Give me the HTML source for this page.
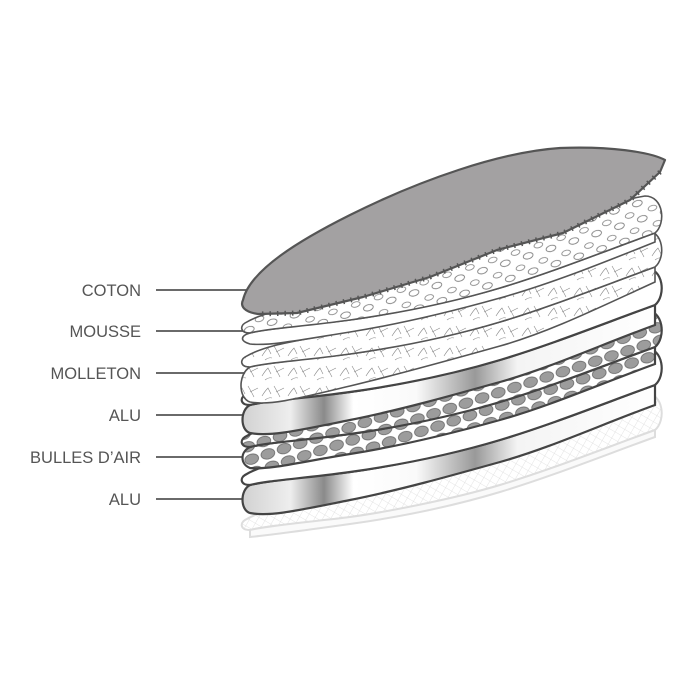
<!DOCTYPE html>
<html><head><meta charset="utf-8"><style>
html,body{margin:0;padding:0;background:#fff}
svg{display:block}
text{font-family:"Liberation Sans",sans-serif;font-size:16.5px;fill:#555}
</style></head><body>
<svg width="700" height="700" viewBox="0 0 700 700">
<defs>
<linearGradient id="alu" x1="240" y1="0" x2="660" y2="0" gradientUnits="userSpaceOnUse">
<stop offset="0" stop-color="#d0d0d0"/><stop offset="0.12" stop-color="#eee"/>
<stop offset="0.2" stop-color="#8a8a8a"/><stop offset="0.27" stop-color="#fff"/>
<stop offset="0.42" stop-color="#fafafa"/><stop offset="0.56" stop-color="#999"/>
<stop offset="0.66" stop-color="#f4f4f4"/><stop offset="1" stop-color="#fff"/>
</linearGradient>
<pattern id="bub" width="17" height="13" patternUnits="userSpaceOnUse" patternTransform="rotate(-18)">
<rect width="17" height="13" fill="#fff"/><ellipse cx="8.5" cy="6.5" rx="7" ry="5" fill="#9c9c9c" stroke="#666" stroke-width="0.8"/>
</pattern>
<pattern id="foam" width="24" height="16" patternUnits="userSpaceOnUse" patternTransform="rotate(-18)">
<rect width="24" height="16" fill="#fff"/><ellipse cx="6" cy="4" rx="4.5" ry="2.6" fill="none" stroke="#777" stroke-width="0.8"/><ellipse cx="17" cy="11" rx="5" ry="3" fill="none" stroke="#777" stroke-width="0.8"/>
</pattern>
<pattern id="fleece" width="26" height="20" patternUnits="userSpaceOnUse">
<rect width="26" height="20" fill="#fff"/><path d="M2 14 Q5 9 8 6 L11 12 M14 4 Q17 9 20 15 M16 10 L24 6 M5 18 Q9 15 12 16" stroke="#888" stroke-width="0.6" fill="none"/>
</pattern>
<pattern id="grid" width="7" height="7" patternUnits="userSpaceOnUse" patternTransform="rotate(30)">
<rect width="7" height="7" fill="#fff"/><path d="M0 0H7M0 0V7" stroke="#ddd" stroke-width="0.8"/>
</pattern>
<path id="top" d="M245,395 C270,380 310,378 350,368 S450,335 500,318 S600,275 645,268 C664,268 666,296 655,305 C600,325 550,345 500,360 S400,385 350,392 S270,400 250,405 C240,405 240,398 245,395 Z"/>
</defs>

<text x="141" y="296" text-anchor="end">COTON</text>
<text x="141" y="337" text-anchor="end">MOUSSE</text>
<text x="141" y="379" text-anchor="end">MOLLETON</text>
<text x="141" y="421" text-anchor="end">ALU</text>
<text x="141" y="463" text-anchor="end">BULLES D’AIR</text>
<text x="141" y="505" text-anchor="end">ALU</text>
<g stroke="#555" stroke-width="1.8">
<line x1="156" y1="290" x2="262" y2="290"/><line x1="156" y1="331" x2="262" y2="331"/>
<line x1="156" y1="373" x2="262" y2="373"/><line x1="156" y1="415" x2="262" y2="415"/>
<line x1="156" y1="457" x2="262" y2="457"/><line x1="156" y1="499" x2="262" y2="499"/>
</g>

<!-- grid -->
<g transform="translate(0,125)" stroke="#ddd" stroke-width="2">
<use href="#top" fill="url(#grid)"/>
<path d="M250,405 C270,400 320,396 350,392 S450,375 500,360 S600,325 655,305 L655,312 C600,332 550,352 500,367 S400,392 350,399 S270,410 250,412 Z" fill="#fafafa"/>
</g>
<!-- ALU2 -->
<g transform="translate(0,80)" stroke="#444" stroke-width="2.2">
<path d="M250,405 C270,400 320,396 350,392 S450,375 500,360 S600,325 655,305 L655,325 C600,345 550,368 500,382 S400,410 350,420 S270,437 250,433 C240,430 240,410 250,405 Z" fill="url(#alu)"/>
<use href="#top" fill="#fff"/>
</g>
<!-- BULLES -->
<g transform="translate(0,42)" stroke="#444" stroke-width="2.2">
<path d="M250,405 C270,400 320,396 350,392 S450,375 500,360 S600,325 655,305 L655,322 C600,342 550,364 500,378 S400,404 350,412 S270,428 250,426 C240,422 240,410 250,405 Z" fill="url(#bub)"/>
<use href="#top" fill="url(#bub)"/>
</g>
<!-- ALU1 -->
<g stroke="#444" stroke-width="2.2">
<path d="M250,405 C270,400 320,396 350,392 S450,375 500,360 S600,325 655,305 L655,325 C600,345 550,368 500,382 S400,410 350,420 S270,437 250,433 C240,430 240,410 250,405 Z" fill="url(#alu)"/>
<use href="#top" fill="#fff"/>
</g>
<!-- MOLLETON -->
<g transform="translate(0,-38)" stroke="#555" stroke-width="1.6">
<path d="M250,405 C270,400 320,396 350,392 S450,375 500,360 S600,325 655,305 L655,320 C600,345 550,370 500,384 S400,412 350,424 S270,444 250,440 C238,436 238,412 250,405 Z" fill="url(#fleece)"/>
<use href="#top" fill="url(#fleece)"/>
</g>
<!-- MOUSSE -->
<g transform="translate(0,-72)" stroke="#555" stroke-width="1.6">
<path d="M250,405 C270,400 320,396 350,392 S450,375 500,360 S600,325 655,305 L655,314 C600,336 550,356 500,370 S400,396 350,404 S270,418 250,416 C240,413 240,408 250,405 Z" fill="#fff"/>
<use href="#top" fill="url(#foam)"/>
</g>
<!-- COTON -->
<path d="M243,300 C250,270 300,240 350,215 C420,180 500,152 560,148 C610,146 650,152 665,160 L660,172 L630,200 L563,233 L497,250 L430,277 L363,297 L297,313 L258,314 C244,312 240,306 243,300 Z" fill="#a3a1a2" stroke="#555" stroke-width="2.2" stroke-linejoin="round"/>
<path d="M660,172 L630,200 L563,233 L497,250 L430,277 L363,297 L297,313 L258,314" fill="none" stroke="#555" stroke-width="5" stroke-dasharray="1.5 6"/>
</svg>
</body></html>
